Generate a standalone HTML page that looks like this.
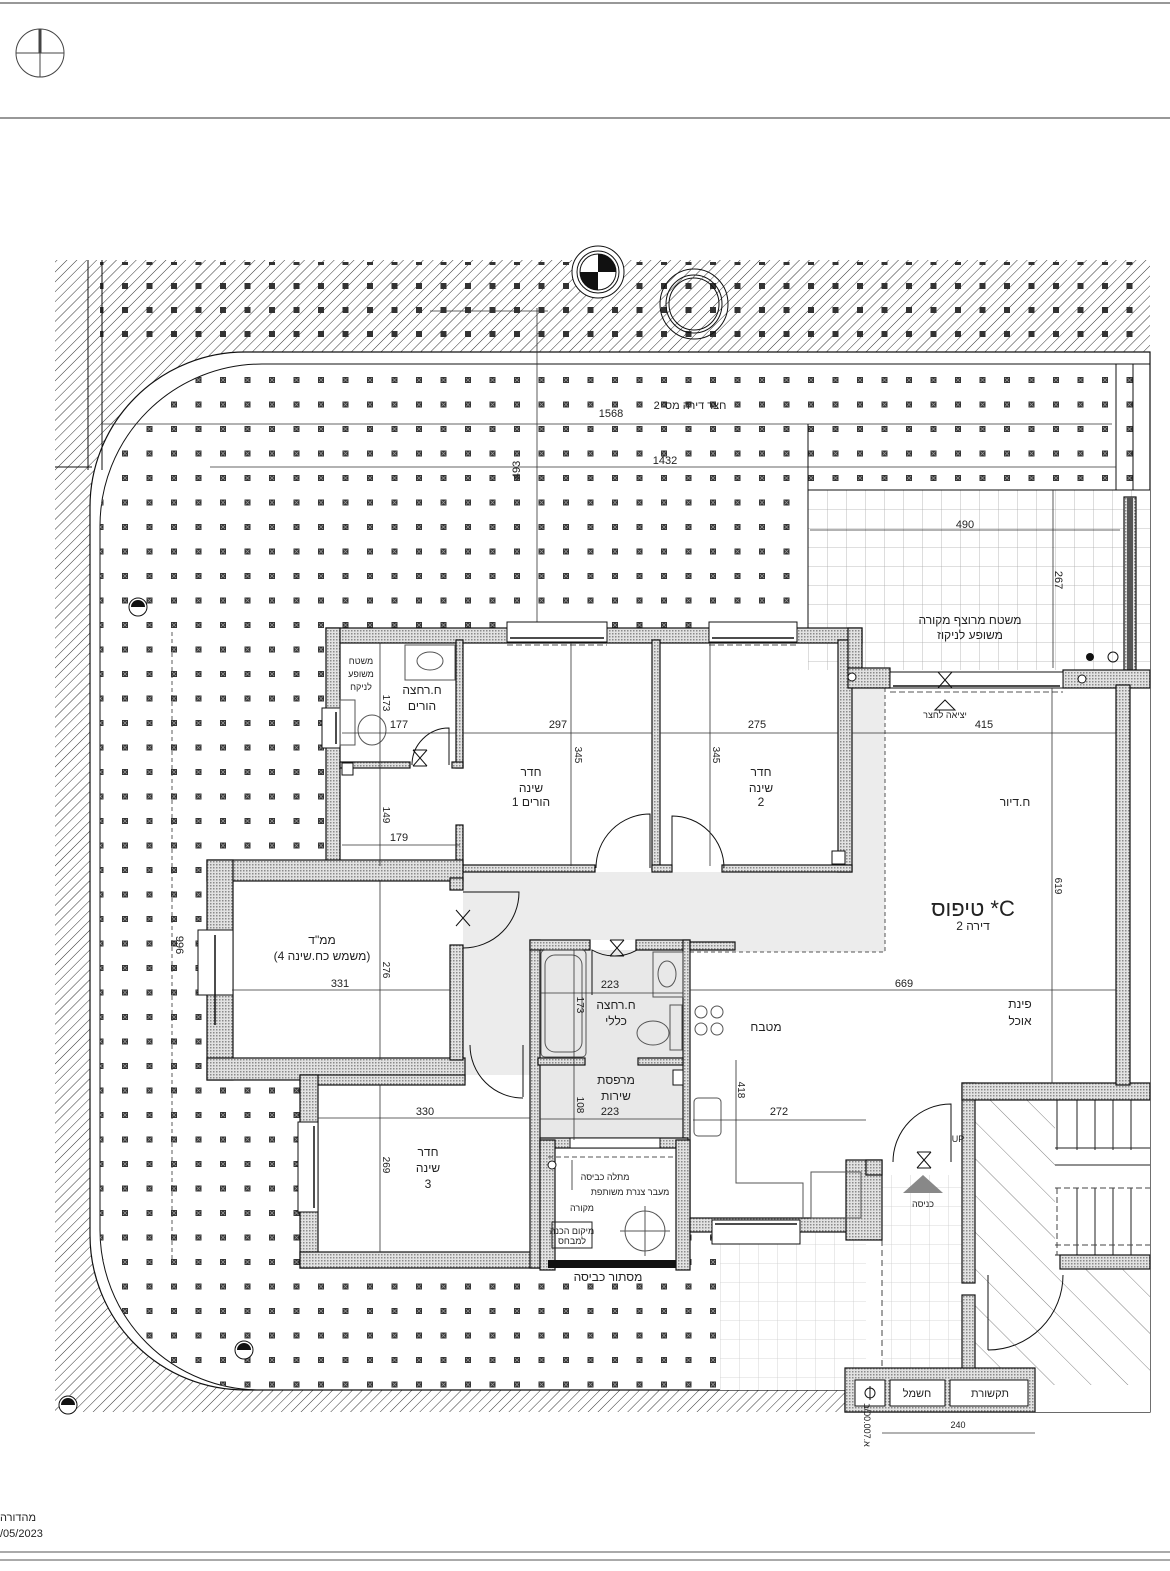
<!DOCTYPE html>
<html><head><meta charset="utf-8"><style>
html,body{margin:0;padding:0;background:#fff}
svg{display:block}
text{font-family:"Liberation Sans","Noto Sans CJK JP",sans-serif;fill:#222}
.w{fill:url(#wall);stroke:#111;stroke-width:1.2}
.d{stroke:#333;stroke-width:.8;fill:none}
.t{font-size:11px;text-anchor:middle}
.s{font-size:9px;text-anchor:middle}
.r{font-size:12px;text-anchor:middle}
.ln{stroke:#111;stroke-width:1;fill:none}
</style></head><body>
<svg width="1170" height="1571" viewBox="0 0 1170 1571" xmlns="http://www.w3.org/2000/svg">
<defs>
<pattern id="hatch" width="7" height="7" patternUnits="userSpaceOnUse" patternTransform="rotate(45)"><line x1="0" y1="0" x2="0" y2="7" stroke="#333" stroke-width="1"/></pattern>
<pattern id="hatch2" width="26" height="26" patternUnits="userSpaceOnUse" patternTransform="rotate(-45)"><line x1="0" y1="0" x2="0" y2="26" stroke="#666" stroke-width=".8"/></pattern>
<pattern id="dots" x="122" y="377" width="24.5" height="24.5" patternUnits="userSpaceOnUse"><rect x="0" y="0" width="6" height="6" fill="#333"/><path d="M1,1L5,5M5,1L1,5" stroke="#999" stroke-width=".8"/></pattern>
<pattern id="dotsTop" x="122" y="283" width="24.5" height="24" patternUnits="userSpaceOnUse"><rect x="0" y="0" width="6" height="6" fill="#333"/></pattern>
<pattern id="wall" width="3" height="3" patternUnits="userSpaceOnUse"><rect width="3" height="3" fill="#e2e2e2"/><rect width="1.5" height="1.5" fill="#8a8a8a"/></pattern>
<pattern id="grid" x="808" y="490" width="19" height="19" patternUnits="userSpaceOnUse"><path d="M0,0H19M0,0V19" stroke="#aaa" stroke-width=".8" fill="none"/></pattern>
<pattern id="grid2" x="720" y="1225" width="19" height="19" patternUnits="userSpaceOnUse"><path d="M0,0H19M0,0V19" stroke="#ccc" stroke-width=".8" fill="none"/></pattern>
</defs>

<line x1="0" y1="3" x2="1170" y2="3" stroke="#777" stroke-width="1.5"/>
<line x1="0" y1="118" x2="1170" y2="118" stroke="#777" stroke-width="1.5"/>
<line x1="0" y1="1552" x2="1170" y2="1552" stroke="#777" stroke-width="1.2"/>
<line x1="0" y1="1560" x2="1170" y2="1560" stroke="#777" stroke-width="1.2"/>
<circle cx="40" cy="53" r="24" fill="none" stroke="#444" stroke-width="1"/>
<line x1="16" y1="53" x2="64" y2="53" stroke="#444"/><line x1="40" y1="29" x2="40" y2="77" stroke="#444"/>
<rect x="38.5" y="29" width="3" height="24" fill="#444"/>
<text x="0" y="1521" font-size="11">מהדורה</text>
<text x="0" y="1537" font-size="11">/05/2023</text>

<rect x="55" y="260" width="1095" height="1152" fill="url(#hatch)"/>
<rect x="100" y="262" width="1050" height="85" fill="url(#dotsTop)"/>
<path d="M1150,352 H245 A155,155 0 0 0 90,507 V1235 A155,155 0 0 0 245,1390 H845 V1412 H1150 Z" fill="#fff" stroke="#111" stroke-width="1.2"/>
<path d="M1150,364 H262 A162,162 0 0 0 100,526 V1230 A160,160 0 0 0 260,1390" fill="none" stroke="#111" stroke-width="1"/>
<path d="M1150,364 H262 A162,162 0 0 0 100,526 V1230 A160,160 0 0 0 260,1390 H845 V364 Z" fill="url(#dots)"/>
<rect x="845" y="364" width="305" height="126" fill="url(#dots)"/>
<line x1="88" y1="260" x2="88" y2="470" class="ln"/><line x1="102" y1="260" x2="102" y2="470" class="ln"/>
<line x1="55" y1="467" x2="92" y2="467" class="ln"/>
<line x1="1116" y1="364" x2="1116" y2="490" class="ln"/><line x1="1133" y1="364" x2="1133" y2="490" class="ln"/>
<circle cx="598" cy="272" r="26" fill="#fff" stroke="#111"/><circle cx="598" cy="272" r="21" fill="none" stroke="#111"/>
<path d="M598,272 V254 A18,18 0 0 1 616,272 Z" fill="#111"/><path d="M598,272 V290 A18,18 0 0 1 580,272 Z" fill="#111"/>
<circle cx="598" cy="272" r="18" fill="none" stroke="#111"/>
<ellipse cx="694" cy="304" rx="34" ry="35" fill="none" stroke="#111"/><ellipse cx="694" cy="304" rx="28" ry="29" fill="none" stroke="#111"/><ellipse cx="694" cy="304" rx="25" ry="26" fill="none" stroke="#111"/>
<g fill="#fff" stroke="#111"><circle cx="138" cy="607" r="9"/><circle cx="244" cy="1350" r="9"/><circle cx="68" cy="1405" r="9"/></g>
<g fill="#111"><path d="M131,607a7,7 0 0 1 14,0z"/><path d="M237,1350a7,7 0 0 1 14,0z"/><path d="M61,1405a7,7 0 0 1 14,0z"/></g>

<line x1="102" y1="424" x2="1112" y2="424" class="d"/><text x="611" y="417" class="t">1568</text>
<text x="690" y="409" class="t">חצר דירה מס' 2</text>
<line x1="210" y1="467" x2="1116" y2="467" class="d"/><text x="665" y="464" class="t">1432</text>
<line x1="430" y1="311" x2="548" y2="311" class="d"/>
<line x1="537" y1="308" x2="537" y2="628" class="d"/><text class="t" transform="translate(520,470) rotate(-90)">493</text>
<line x1="172" y1="632" x2="172" y2="1262" class="d" stroke-dasharray="4,3"/><text class="t" transform="translate(176,945) rotate(90)">996</text>

<!-- building white footprint -->
<polygon points="326,628 862,628 862,668 1150,668 1150,1412 845,1412 845,1370 866,1370 866,1232 690,1232 690,1270 300,1270 300,1082 207,1082 207,858 326,858" fill="#fff"/>
<rect x="720" y="1232" width="146" height="158" fill="#fff"/>

<rect x="808" y="490" width="342" height="180" fill="#fff"/>
<rect x="808" y="490" width="342" height="180" fill="url(#grid)"/>
<line x1="808" y1="490" x2="1150" y2="490" class="ln"/><line x1="808" y1="424" x2="808" y2="628" class="ln"/>
<line x1="810" y1="530" x2="1120" y2="530" class="d"/><text x="965" y="528" class="t">490</text>
<line x1="1053" y1="490" x2="1053" y2="668" class="d"/><text class="t" transform="translate(1055,580) rotate(90)">267</text>
<text x="970" y="624" class="r">משטח מרוצף מקורה</text><text x="970" y="639" class="r">משופע לניקוז</text>
<rect x="1124" y="497" width="12" height="190" class="w"/><rect x="1127" y="497" width="6" height="190" fill="#555"/>
<circle cx="1090" cy="657" r="4" fill="#111"/><circle cx="1113" cy="657" r="5" fill="none" stroke="#111"/>

<polygon points="463,872 852,872 852,688 885,688 885,952 690,952 690,940 530,940 530,1075 463,1075" fill="#ececec"/>
<path d="M885,688 V952 H690" fill="none" stroke="#555" stroke-dasharray="4,3"/>
<rect x="540" y="950" width="143" height="190" fill="#e8e8e8"/>
<rect x="720" y="1232" width="146" height="158" fill="url(#grid2)"/>
<rect x="882" y="1175" width="80" height="195" fill="url(#grid2)"/>
<line x1="882" y1="1240" x2="882" y2="1370" stroke="#444" stroke-dasharray="6,4"/>
<rect x="975" y="1100" width="175" height="285" fill="url(#hatch2)"/>
<rect x="1055" y="1100" width="95" height="155" fill="#fff"/>
<g stroke="#222" stroke-width="1"><line x1="1055" y1="1100" x2="1150" y2="1100"/><line x1="1055" y1="1148" x2="1150" y2="1148"/><line x1="1055" y1="1165" x2="1150" y2="1165"/><line x1="1055" y1="1255" x2="1150" y2="1255"/>
<line x1="1057" y1="1100" x2="1057" y2="1150"/><line x1="1077" y1="1100" x2="1077" y2="1150"/><line x1="1095" y1="1100" x2="1095" y2="1150"/><line x1="1113" y1="1100" x2="1113" y2="1150"/><line x1="1131" y1="1100" x2="1131" y2="1150"/>
<line x1="1077" y1="1188" x2="1077" y2="1255"/><line x1="1095" y1="1188" x2="1095" y2="1255"/><line x1="1113" y1="1188" x2="1113" y2="1255"/><line x1="1131" y1="1188" x2="1131" y2="1255"/></g>
<line x1="1055" y1="1188" x2="1150" y2="1188" stroke="#444" stroke-dasharray="6,3"/><line x1="1055" y1="1245" x2="1150" y2="1245" stroke="#444" stroke-dasharray="6,3"/>
<line x1="1057" y1="1188" x2="1057" y2="1255" stroke="#444" stroke-dasharray="6,3"/>
<rect x="1060" y="1255" width="90" height="14" class="w"/>

<g>
<rect class="w" x="326" y="628" width="536" height="15"/>
<rect class="w" x="326" y="628" width="14" height="240"/>
<rect class="w" x="456" y="640" width="7" height="128"/>
<rect class="w" x="340" y="762" width="70" height="6"/>
<rect class="w" x="452" y="762" width="11" height="6"/>
<rect class="w" x="456" y="825" width="7" height="45"/>
<rect class="w" x="652" y="640" width="8" height="230"/>
<rect class="w" x="838" y="640" width="14" height="232"/>
<rect class="w" x="848" y="628" width="14" height="42"/>
<rect class="w" x="848" y="668" width="42" height="20"/>
<rect class="w" x="1063" y="670" width="87" height="18"/>
<rect class="w" x="463" y="865" width="132" height="7"/>
<rect class="w" x="652" y="865" width="20" height="7"/>
<rect class="w" x="722" y="865" width="130" height="7"/>
<rect class="w" x="207" y="860" width="256" height="21"/>
<rect class="w" x="207" y="860" width="26" height="220"/>
<rect class="w" x="207" y="1058" width="258" height="22"/>
<rect class="w" x="450" y="878" width="13" height="12"/>
<rect class="w" x="450" y="945" width="13" height="115"/>
<rect class="w" x="300" y="1075" width="165" height="10"/>
<rect class="w" x="300" y="1075" width="18" height="193"/>
<rect class="w" x="300" y="1252" width="250" height="16"/>
<rect class="w" x="530" y="940" width="10" height="328"/>
<rect class="w" x="530" y="940" width="60" height="10"/>
<rect class="w" x="636" y="940" width="54" height="10"/>
<rect class="w" x="683" y="940" width="7" height="285"/>
<rect class="w" x="538" y="1058" width="47" height="7"/>
<rect class="w" x="638" y="1058" width="45" height="7"/>
<rect class="w" x="540" y="1138" width="148" height="10"/>
<rect class="w" x="540" y="1140" width="15" height="130"/>
<rect class="w" x="676" y="1140" width="14" height="130"/>
<rect x="548" y="1260" width="128" height="8" fill="#111"/>
<rect class="w" x="690" y="1218" width="176" height="14"/>
<rect class="w" x="846" y="1160" width="36" height="80"/>
<rect class="w" x="866" y="1160" width="16" height="15"/>
<rect class="w" x="962" y="1083" width="13" height="200"/>
<rect class="w" x="962" y="1295" width="13" height="90"/>
<rect class="w" x="962" y="1083" width="188" height="17"/>
<rect class="w" x="1116" y="685" width="14" height="400"/>
<rect class="w" x="845" y="1368" width="190" height="44"/>
<rect class="w" x="690" y="942" width="45" height="8"/>
</g>
<rect x="855" y="1380" width="30" height="26" fill="#fff" stroke="#111"/><circle cx="870" cy="1393" r="5" fill="none" stroke="#111"/><line x1="870" y1="1386" x2="870" y2="1400" stroke="#111"/>
<rect x="890" y="1380" width="55" height="26" fill="#fff" stroke="#111"/><rect x="950" y="1380" width="78" height="26" fill="#fff" stroke="#111"/>
<text x="917" y="1397" class="t">חשמל</text><text x="990" y="1397" class="t">תקשורת</text>
<line x1="882" y1="1433" x2="1035" y2="1433" class="d"/><text x="958" y="1428" class="s">240</text>
<text class="s" transform="translate(864,1425) rotate(90)">א.00.007/ב</text>

<g fill="#fff" stroke="#111" stroke-width="1">
<rect x="507" y="622" width="100" height="20"/><rect x="709" y="622" width="88" height="20"/>
<rect x="890" y="672" width="173" height="16"/>
<rect x="322" y="708" width="18" height="40"/>
<rect x="198" y="930" width="35" height="65"/>
<rect x="298" y="1122" width="20" height="90"/>
<rect x="570" y="1138" width="90" height="10"/>
<rect x="712" y="1220" width="88" height="24"/>
</g>
<g stroke="#111" stroke-width="1.5"><line x1="510" y1="638" x2="604" y2="638"/><line x1="712" y1="638" x2="794" y2="638"/><line x1="893" y1="686" x2="1060" y2="686"/><line x1="336" y1="712" x2="336" y2="744"/><line x1="314" y1="1126" x2="314" y2="1208"/><line x1="715" y1="1224" x2="797" y2="1224"/><line x1="215" y1="935" x2="215" y2="1025"/></g>
<path d="M507,645H607M709,645H797M890,692H1063" stroke="#555" stroke-dasharray="6,3" fill="none"/>

<g class="ln" stroke-width="1">
<path d="M650,868 V814 A54,54 0 0 0 596,868"/>
<path d="M672,868 V816 A52,52 0 0 1 724,868"/>
<path d="M449,765 V728 A37,37 0 0 0 412,765"/>
<path d="M463,892 H519 A56,56 0 0 1 463,948"/>
<path d="M523,1045 V1097 M470,1045 A53,53 0 0 0 523,1098"/>
<path d="M592,995 V950 A45,45 0 0 0 637,950"/>
<path d="M951,1162 V1104 A58,58 0 0 0 893,1162"/>
<path d="M988,1275 V1350 M1063,1275 A75,75 0 0 1 988,1350"/>
</g>
<g stroke="#111" fill="none"><path d="M413,750 L427,766 M427,750 L413,766 M413,750H427M413,766H427"/><path d="M610,940 L624,956 M624,940 L610,956 M610,940H624M610,956H624"/><path d="M917,1152 L931,1168 M931,1152 L917,1168 M917,1152H931M917,1168H931"/><path d="M938,672 L952,688 M952,672 L938,688 M938,672H952"/><path d="M456,910 L470,926 M470,910 L456,926"/></g>
<polygon points="923,1175 903,1193 943,1193" fill="#888"/>
<path d="M945,700 L935,710 H955 Z" fill="none" stroke="#111"/>

<g fill="none" stroke="#555">
<rect x="405" y="645" width="50" height="35"/><ellipse cx="430" cy="661" rx="13" ry="9"/>
<rect x="340" y="700" width="15" height="45"/><ellipse cx="372" cy="730" rx="14" ry="15"/>
<rect x="541" y="950" width="45" height="107" rx="4"/><rect x="545" y="955" width="37" height="97" rx="10"/>
<rect x="653" y="952" width="30" height="45"/><ellipse cx="667" cy="974" rx="9" ry="13"/>
<ellipse cx="653" cy="1033" rx="16" ry="12"/><rect x="670" y="1005" width="12" height="45"/>
<circle cx="701" cy="1012" r="6"/><circle cx="717" cy="1012" r="6"/><circle cx="701" cy="1029" r="6"/><circle cx="717" cy="1029" r="6"/>
<rect x="694" y="1098" width="27" height="38" rx="4"/>
<path d="M736,1060 V1183 H803 V1218"/>
<rect x="811" y="1172" width="50" height="46"/>
<circle cx="645" cy="1231" r="20"/><line x1="620" y1="1231" x2="670" y2="1231"/><line x1="645" y1="1206" x2="645" y2="1256"/>
<rect x="552" y="1222" width="40" height="26" stroke="#222"/>
<line x1="572" y1="1160" x2="572" y2="1190"/><line x1="548" y1="1157" x2="676" y2="1157" stroke-dasharray="5,3"/>
</g>
<g fill="#fff" stroke="#111"><circle cx="852" cy="677" r="4"/><circle cx="1082" cy="679" r="4"/><circle cx="552" cy="1165" r="4"/><rect x="832" y="851" width="13" height="13"/><rect x="342" y="763" width="11" height="12"/><rect x="673" y="1070" width="10" height="15"/></g>

<g class="d">
<line x1="342" y1="733" x2="456" y2="733"/><line x1="463" y1="733" x2="652" y2="733"/><line x1="660" y1="733" x2="838" y2="733"/>
<line x1="571" y1="643" x2="571" y2="866"/><line x1="710" y1="643" x2="710" y2="866"/>
<line x1="380" y1="643" x2="380" y2="866"/><line x1="342" y1="845" x2="460" y2="845"/>
<line x1="232" y1="990" x2="450" y2="990"/><line x1="380" y1="880" x2="380" y2="1060"/>
<line x1="318" y1="1118" x2="530" y2="1118"/><line x1="380" y1="1085" x2="380" y2="1252"/>
<line x1="540" y1="993" x2="683" y2="993"/><line x1="574" y1="950" x2="574" y2="1140"/>
<line x1="540" y1="1119" x2="683" y2="1119"/>
<line x1="690" y1="990" x2="1116" y2="990"/><line x1="1052" y1="688" x2="1052" y2="1083"/>
<line x1="852" y1="733" x2="1116" y2="733"/><line x1="693" y1="1120" x2="866" y2="1120"/>
</g>
<g>
<text x="399" y="728" class="t" font-size="10">177</text><text x="558" y="728" class="t" font-size="10">297</text><text x="757" y="728" class="t" font-size="10">275</text>
<text x="399" y="841" class="t" font-size="10">179</text><text x="340" y="987" class="t" font-size="10">331</text><text x="425" y="1115" class="t" font-size="10">330</text>
<text x="610" y="988" class="t" font-size="10">223</text><text x="610" y="1115" class="t" font-size="10">223</text>
<text x="904" y="987" class="t" font-size="10">669</text><text x="984" y="728" class="t" font-size="10">415</text><text x="779" y="1115" class="t" font-size="10">272</text>
</g>
<g font-size="10" text-anchor="middle">
<text transform="translate(575,755) rotate(90)">345</text><text transform="translate(713,755) rotate(90)">345</text>
<text transform="translate(383,703) rotate(90)">173</text><text transform="translate(383,815) rotate(90)">149</text>
<text transform="translate(383,970) rotate(90)">276</text><text transform="translate(383,1165) rotate(90)">269</text>
<text transform="translate(577,1005) rotate(90)">173</text><text transform="translate(577,1105) rotate(90)">108</text>
<text transform="translate(1055,886) rotate(90)">619</text><text transform="translate(738,1090) rotate(90)">418</text>
</g>

<text x="361" y="664" class="s" font-size="10">משטח</text><text x="361" y="677" class="s" font-size="10">משופע</text><text x="361" y="690" class="s" font-size="10">לניקח</text>
<text x="422" y="694" class="r">ח.רחצה</text><text x="422" y="710" class="r">הורים</text>
<text x="531" y="776" class="r">חדר</text><text x="531" y="792" class="r">שינה</text><text x="531" y="806" class="r">הורים 1</text>
<text x="761" y="776" class="r">חדר</text><text x="761" y="792" class="r">שינה</text><text x="761" y="806" class="r">2</text>
<text x="1015" y="806" class="r">ח.דיור</text>
<text x="973" y="916" font-size="22" text-anchor="middle">טיפוס *C</text><text x="973" y="930" class="r">דירה 2</text>
<text x="322" y="944" class="r">ממ"ד</text><text x="322" y="960" class="r">(משמש כח.שינה 4)</text>
<text x="616" y="1009" class="r">ח.רחצה</text><text x="616" y="1025" class="r">כללי</text>
<text x="766" y="1031" class="r">מטבח</text>
<text x="1020" y="1008" class="r">פינת</text><text x="1020" y="1025" class="r">אוכל</text>
<text x="616" y="1084" class="r">מרפסת</text><text x="616" y="1100" class="r">שירות</text>
<text x="428" y="1156" class="r">חדר</text><text x="428" y="1172" class="r">שינה</text><text x="428" y="1188" class="r">3</text>
<text x="605" y="1180" class="s" font-size="10">מתלה כביסה</text><text x="630" y="1195" class="s" font-size="10">מעבר צנרת משותפת</text><text x="582" y="1211" class="s" font-size="10">מקורה</text>
<text x="572" y="1234" class="s" font-size="8">מיקום הכנה</text><text x="572" y="1244" class="s" font-size="8">למבחס</text>
<text x="608" y="1281" class="r">מסתור כביסה</text>
<text x="923" y="1207" class="s" font-size="10">כניסה</text>
<text x="945" y="718" class="s" font-size="8">יציאה לחצר</text>
<text x="958" y="1142" class="s" font-size="10">UP</text>
</svg>
</body></html>
